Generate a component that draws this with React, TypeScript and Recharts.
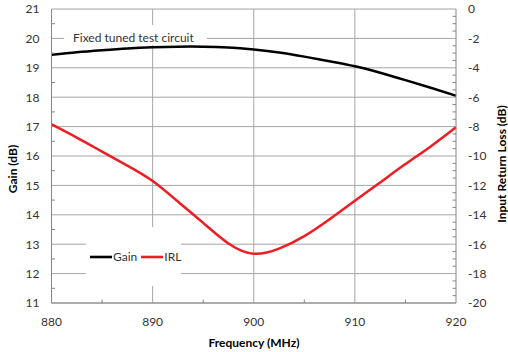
import { CartesianGrid, ComposedChart, Legend, Line, XAxis, YAxis } from 'recharts'

// frequency points (MHz)
const freq = [880, 882.5, 885, 887.5, 890, 892.5, 895, 897.5, 900, 902.5, 905, 907.5, 910, 912.5, 915, 917.5, 920]
// gain (dB), left axis
const gain = [19.44, 19.53, 19.6, 19.66, 19.7, 19.72, 19.72, 19.69, 19.62, 19.52, 19.38, 19.22, 19.05, 18.83, 18.58, 18.32, 18.05]
// input return loss (dB), right axis
const irl = [-7.85, -8.75, -9.7, -10.65, -11.7, -13.1, -14.55, -15.95, -16.65, -16.3, -15.45, -14.3, -13.05, -11.8, -10.55, -9.35, -8.05]

const freqTicks = [880, 885, 890, 895, 900, 905, 910, 915, 920]
const freqGrid = [890, 900, 910]
const gainTicks = [11, 11.5, 12, 12.5, 13, 13.5, 14, 14.5, 15, 15.5, 16, 16.5, 17, 17.5, 18, 18.5, 19, 19.5, 20, 20.5, 21]
const gainGrid = [11, 12, 13, 14, 15, 16, 17, 18, 19, 20, 21]
const irlTicks = [
  -20, -19.5, -19, -18.5, -18, -17.5, -17, -16.5, -16, -15.5, -15, -14.5, -14, -13.5, -13, -12.5, -12,
  -11.5, -11, -10.5, -10, -9.5, -9, -8.5, -8, -7.5, -7, -6.5, -6, -5.5, -5, -4.5, -4, -3.5, -3, -2.5,
  -2, -1.5, -1, -0.5, 0,
]

const data = freq.map((f, i) => ({ f, gain: gain[i], irl: irl[i] }))

const FONT = 'Lato, "Open Sans", sans-serif'
const AXIS = '#868686'
const GRID = '#a6a6a6'
const TXT = '#333'

const GainTick = (props: any) => {
  const { x, y, payload } = props
  const v = payload.value
  if (v % 1 !== 0) return <line x1={x} x2={x + 3.5} y1={y} y2={y} stroke={AXIS} />
  return (
    <text x={x - 12} y={y} dy='0.36em' textAnchor='end' fill={TXT} fontSize={12}>
      {v}
    </text>
  )
}

const IrlTick = (props: any) => {
  const { x, y, payload } = props
  const v = payload.value
  if (v % 2 !== 0) return <line x1={x - 3.5} x2={x} y1={y} y2={y} stroke={AXIS} />
  return (
    <text x={x + 12} y={y} dy='0.36em' textAnchor='start' fill={TXT} fontSize={12}>
      {v}
    </text>
  )
}

const FreqTick = (props: any) => {
  const { x, y, payload } = props
  const v = payload.value
  if (v % 10 !== 0) return <line x1={x} x2={x} y1={y - 3.5} y2={y} stroke={AXIS} />
  return (
    <text x={x} y={y + 23} textAnchor='middle' fill={TXT} fontSize={12}>
      {v}
    </text>
  )
}

const GainTitle = () => (
  <text x={13} y={169} dy='0.35em' transform='rotate(-90 13 169)' textAnchor='middle' fontWeight='bold' fontSize={12} fill='#000'>
    Gain (dB)
  </text>
)

const IrlTitle = () => (
  <text x={502} y={164} dy='0.35em' transform='rotate(-90 502 164)' textAnchor='middle' fontWeight='bold' fontSize={12} fill='#000'>
    Input Return Loss (dB)
  </text>
)

const FreqTitle = () => (
  <text x={254} y={347} textAnchor='middle' fontWeight='bold' fontSize={12} fill='#000'>
    Frequency (MHz)
  </text>
)

const LegendBox = (props: any) => {
  const { payload } = props
  return (
    <div style={{ display: 'flex', alignItems: 'center', height: '100%', paddingLeft: 4, fontSize: 12, color: TXT }}>
      {payload.map((e: any) => (
        <span key={e.value} style={{ display: 'flex', alignItems: 'center', marginRight: 4 }}>
          <svg width={22} height={4}>
            <line x1={0} x2={22} y1={2} y2={2} stroke={e.color} strokeWidth={2.6} />
          </svg>
          <span style={{ marginLeft: 1 }}>{e.value}</span>
        </span>
      ))}
    </div>
  )
}

const App = () => {
  return (
    <div style={{ position: 'absolute', left: 0, top: 0, width: 508, height: 352, background: '#fff', fontFamily: FONT }}>
      <ComposedChart width={508} height={352} data={data} margin={{ top: 9, right: 0, left: 0, bottom: 0 }}>
        <CartesianGrid
          xAxisId='x'
          yAxisId='gain'
          horizontalValues={gainGrid}
          verticalValues={freqGrid}
          stroke={GRID}
        />
        <XAxis
          xAxisId='x'
          dataKey='f'
          type='number'
          domain={[880, 920]}
          ticks={freqTicks}
          interval={0}
          height={49}
          tickSize={0}
          tickMargin={0}
          tickLine={false}
          axisLine={{ stroke: AXIS }}
          tick={<FreqTick />}
          label={<FreqTitle />}
        />
        <YAxis
          yAxisId='gain'
          type='number'
          domain={[11, 21]}
          ticks={gainTicks}
          interval={0}
          width={51.5}
          tickSize={0}
          tickMargin={0}
          tickLine={false}
          axisLine={{ stroke: AXIS }}
          tick={<GainTick />}
          label={<GainTitle />}
        />
        <YAxis
          yAxisId='irl'
          orientation='right'
          type='number'
          domain={[-20, 0]}
          ticks={irlTicks}
          interval={0}
          width={52}
          tickSize={0}
          tickMargin={0}
          tickLine={false}
          axisLine={{ stroke: AXIS }}
          tick={<IrlTick />}
          label={<IrlTitle />}
        />
        <Legend
          layout='horizontal'
          verticalAlign='middle'
          align='center'
          content={<LegendBox />}
          wrapperStyle={{ position: 'absolute', left: 86, top: 227, width: 95, height: 59, background: '#fff' }}
        />
        <Line
          xAxisId='x'
          yAxisId='gain'
          type='natural'
          dataKey='gain'
          name='Gain'
          stroke='#000'
          strokeWidth={2.5}
          dot={false}
          isAnimationActive={false}
        />
        <Line
          xAxisId='x'
          yAxisId='irl'
          type='natural'
          dataKey='irl'
          name='IRL'
          stroke='#ee1d23'
          strokeWidth={2.5}
          dot={false}
          isAnimationActive={false}
        />
      </ComposedChart>
      <div style={{ position: 'absolute', left: 64, top: 25, width: 143, height: 20, background: '#fff' }}>
        <span style={{ position: 'absolute', left: 9, top: 7, lineHeight: '12px', fontSize: 12, color: TXT, whiteSpace: 'nowrap' }}>
          Fixed tuned test circuit
        </span>
      </div>
    </div>
  )
}

export default App
